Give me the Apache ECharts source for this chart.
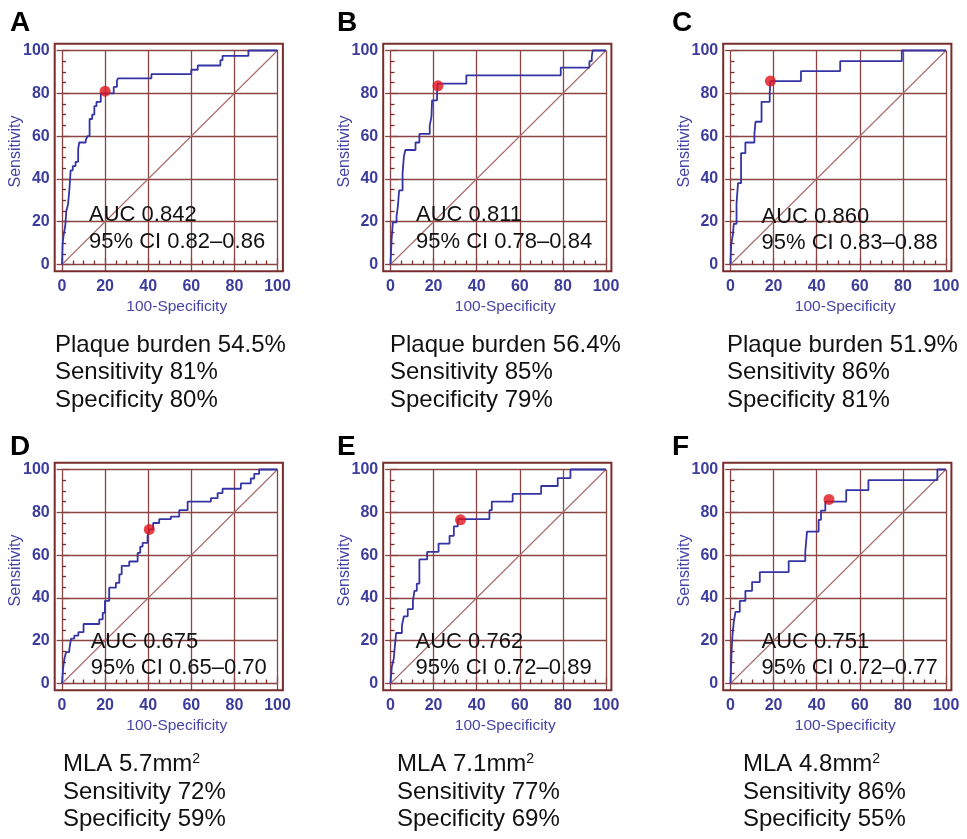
<!DOCTYPE html>
<html>
<head>
<meta charset="utf-8">
<script src="https://cdn.jsdelivr.net/npm/echarts@6/dist/echarts.min.js"></script>
<style>
html,body{margin:0;padding:0;background:#fff;}
#c{width:967px;height:839px;}
</style>
</head>
<body>
<div id="c"></div>
<script>
// ---------------- data ----------------
const panelLetters = ['A', 'B', 'C', 'D', 'E', 'F'];
const axisTickValues = [0, 20, 40, 60, 80, 100];

// ROC curves: x = 100-Specificity at which the curve rises, y = Sensitivity after the rise
const fprA = [0,0.3,0.8,1.5,2,2.8,3.5,4,5,6.3,7.5,8,11,11.8,12.8,12.8,14,15,16,18,24,25.5,26,41.5,60,63,73.5,74.5,86.5,100];
const tprA = [0,10,14,18,25,28,36,44,46,48,54,57,58,60,64,68,70,74,76,80,83,86,87,89,91,93,95.5,97.5,100,100];
const fprB = [0,0.5,1.1,2.8,3.4,4,5.6,6.2,6.9,11.6,13.4,18.2,19,19.3,21.6,21.9,35.2,79,92.3,93.4,93.8,100];
const tprB = [0,11.6,19.7,22.5,27,34.6,42.6,50.4,53.5,57,61,65,69,76.7,80,84.5,88.4,92,95,97,100,100];
const fprC = [0,0.3,1.2,1.5,2.8,3.5,4.9,6.9,11.1,11.6,14.4,18.2,18.5,32.7,50.9,79.5,100];
const tprC = [0,9.3,14.7,19,28.7,38,52,57,61,66.7,76,80,85.7,90.4,95,100,100];
const fprD = [0,0.5,1.1,1.9,3.4,4.2,5.7,7.6,10,17.3,18.9,19.9,21.9,25,26.6,27.7,31.2,35.1,36.3,37.4,39.7,40.5,42.3,45.1,50.5,54.4,58.3,69.1,72.2,74.5,83,87.6,89.2,91.5,100];
const tprD = [0,7,11.6,14.7,16,21,22.4,24,27.8,30,33,38.6,44.8,47,51,55,57,61,64,65.7,68.8,72,75,76.8,78,81,85,86.6,89,91,93.5,95.8,98,100,100];
const fprE = [0,0.6,1.5,2.2,2.6,5.3,6.2,8,10.4,11.1,12.2,13.4,17,22.3,27.4,29.4,31.2,45.9,47,56.7,69.9,77.6,83.5,100];
const tprE = [0,7.7,11.6,19.3,23.6,27,31.4,34.8,38.6,43.3,46.7,58,61.5,65.4,69,73.4,76.8,81,85,88.6,92.3,96,100,100];
const fprF = [0,0.5,0.9,1.5,2.3,4.3,6.9,10,13.6,27,34.7,35.5,40.9,42,44,53.7,64,96,100];
const tprF = [0,14.7,22.4,28.6,33.5,38.6,43.3,47.4,52,57.2,61.5,71,76.5,80.8,85,90.4,95,100,100];

// reference (chance) line
const diagX = [0, 100];
const diagY = [0, 100];

// optimal cut-off points
const dotX = [20, 22, 18.5, 40.5, 32.5, 45.7];
const dotY = [81, 83.5, 85.7, 72, 76.5, 86];

const aucText = ['AUC 0.842', 'AUC 0.811', 'AUC 0.860', 'AUC 0.675', 'AUC 0.762', 'AUC 0.751'];
const ciText = ['95% CI 0.82\u20130.86', '95% CI 0.78\u20130.84', '95% CI 0.83\u20130.88',
                '95% CI 0.65\u20130.70', '95% CI 0.72\u20130.89', '95% CI 0.72\u20130.77'];
const caption1 = ['Plaque burden 54.5%', 'Plaque burden 56.4%', 'Plaque burden 51.9%',
                  'MLA 5.7mm{sup|2}', 'MLA 7.1mm{sup|2}', 'MLA 4.8mm{sup|2}'];
const caption2 = ['Sensitivity 81%', 'Sensitivity 85%', 'Sensitivity 86%',
                  'Sensitivity 72%', 'Sensitivity 77%', 'Sensitivity 86%'];
const caption3 = ['Specificity 80%', 'Specificity 79%', 'Specificity 81%',
                  'Specificity 59%', 'Specificity 69%', 'Specificity 55%'];

const fprs = [fprA, fprB, fprC, fprD, fprE, fprF];
const tprs = [tprA, tprB, tprC, tprD, tprE, tprF];

// ---------------- layout / style ----------------
const FONT = '"Liberation Sans", Arial, Helvetica, sans-serif';
const colX0 = [62, 390.5, 730.5];
const rowTop = [50.5, 469.5];
const plotW = 215.5, plotH = 214;
const padL = 7.3, padR = 5.4, padT = 6.7, padB = 6.7;
const frameColor = '#7a2c2c';
const gridColor = '#8a4444';
const diagColor = '#a86a6a';
const curveColor = '#3434a4';
const dotColor = '#e0141a';
const labelColor = '#3c3c9c';
const nameColor = '#4444a6';

const letterPos = [[10, 23], [337, 23], [672, 23], [10, 447], [337, 447], [672, 447]];
const aucDx = [27, 25.5, 31, 28.7, 25, 31];
const aucDy = [164.5, 164.5, 166, 172, 172, 172];
const capLeft = [55, 390, 727, 63, 397, 743];
const capRowY = [[345, 372.5, 400], [764.5, 792, 819.5]];

const grid = [], xAxis = [], yAxis = [], series = [], graphic = [];

panelLetters.forEach((letter, i) => {
  const left = colX0[i % 3];
  const top = rowTop[Math.floor(i / 3)];
  grid.push({ left: left, top: top, width: plotW, height: plotH, containLabel: false });

  const base = { type: 'value', gridIndex: i, min: axisTickValues[0], max: axisTickValues[axisTickValues.length - 1], interval: 20 };
  const tickStyle = { color: gridColor, width: 1.3 };
  const minorStyle = { color: frameColor, width: 1.3 };

  xAxis.push(Object.assign({}, base, {
    position: 'bottom', offset: padB,
    axisLine: { show: false },
    axisTick: { show: true, inside: true, length: padB, lineStyle: tickStyle },
    minorTick: { show: true, splitNumber: 4, length: 4, lineStyle: minorStyle },
    axisLabel: { color: labelColor, fontSize: 16, fontWeight: 'bold', fontFamily: FONT, margin: 7 },
    splitLine: { show: true, lineStyle: { color: gridColor, width: 1.3 } },
    name: '100-Specificity', nameLocation: 'middle', nameGap: 28, nameMoveOverlap: false,
    nameTextStyle: { color: nameColor, fontSize: 15.5, fontFamily: FONT, padding: [0, 0, 0, 14] }
  }));
  xAxis.push(Object.assign({}, base, {
    position: 'top', offset: padT,
    axisLine: { show: false },
    axisTick: { show: true, inside: true, length: padT, lineStyle: tickStyle },
    axisLabel: { show: false },
    splitLine: { show: false }
  }));
  yAxis.push(Object.assign({}, base, {
    position: 'left', offset: padL,
    axisLine: { show: false },
    axisTick: { show: true, inside: true, length: padL, lineStyle: tickStyle },
    minorTick: { show: true, splitNumber: 4, length: 4, lineStyle: minorStyle },
    axisLabel: { color: labelColor, fontSize: 16, fontWeight: 'bold', fontFamily: FONT, margin: 5 },
    splitLine: { show: true, lineStyle: { color: gridColor, width: 1.3 } },
    name: 'Sensitivity', nameLocation: 'middle', nameGap: 31, nameMoveOverlap: false,
    nameTextStyle: { color: nameColor, fontSize: 16, fontFamily: FONT, padding: [0, 0, 0, 12] }
  }));
  yAxis.push(Object.assign({}, base, {
    position: 'right', offset: padR,
    axisLine: { show: false },
    axisTick: { show: true, inside: true, length: padR, lineStyle: tickStyle },
    axisLabel: { show: false },
    splitLine: { show: false }
  }));

  const xi = 2 * i, yi = 2 * i;
  series.push({
    type: 'line', xAxisIndex: xi, yAxisIndex: yi, silent: true, clip: false,
    data: diagX.map((x, k) => [x, diagY[k]]),
    symbol: 'none', lineStyle: { color: diagColor, width: 1.1 }, z: 2
  });
  series.push({
    type: 'line', xAxisIndex: xi, yAxisIndex: yi, silent: true, clip: false, step: 'end',
    data: fprs[i].map((x, k) => [x, tprs[i][k]]),
    symbol: 'none', lineStyle: { color: curveColor, width: 1.8 }, z: 3
  });
  series.push({
    type: 'scatter', xAxisIndex: xi, yAxisIndex: yi, silent: true, clip: false,
    data: [[dotX[i], dotY[i]]],
    symbolSize: 11, itemStyle: { color: dotColor }, z: 4
  });

  // frame
  graphic.push({
    type: 'rect', silent: true, z: 5,
    shape: { x: left - padL, y: top - padT, width: plotW + padL + padR, height: plotH + padT + padB },
    style: { fill: 'none', stroke: frameColor, lineWidth: 2 }
  });
  // panel letter
  graphic.push({
    type: 'text', silent: true, z: 6, x: letterPos[i][0], y: letterPos[i][1],
    style: { text: letter, font: 'bold 28px ' + FONT, fill: '#000', align: 'left', verticalAlign: 'middle' }
  });
  // AUC annotation
  graphic.push({
    type: 'text', silent: true, z: 6, x: left + aucDx[i], y: top + aucDy[i],
    style: { text: aucText[i], font: '22px ' + FONT, fill: '#111', align: 'left', verticalAlign: 'middle' }
  });
  graphic.push({
    type: 'text', silent: true, z: 6, x: left + aucDx[i], y: top + aucDy[i] + 26.5,
    style: { text: ciText[i], font: '22px ' + FONT, fill: '#111', align: 'left', verticalAlign: 'middle' }
  });
  // captions
  const rows = capRowY[Math.floor(i / 3)];
  [caption1[i], caption2[i], caption3[i]].forEach((t, k) => {
    graphic.push({
      type: 'text', silent: true, z: 6, x: capLeft[i], y: rows[k],
      style: {
        text: t, font: '24px ' + FONT, fill: '#111', align: 'left', verticalAlign: 'middle',
        rich: { sup: { fontSize: 14, fontFamily: FONT, fill: '#111', verticalAlign: 'top' } }
      }
    });
  });
});

const chart = echarts.init(document.getElementById('c'));
chart.setOption({
  animation: false,
  backgroundColor: '#fff',
  grid: grid,
  xAxis: xAxis,
  yAxis: yAxis,
  series: series,
  graphic: graphic
});
</script>
</body>
</html>
